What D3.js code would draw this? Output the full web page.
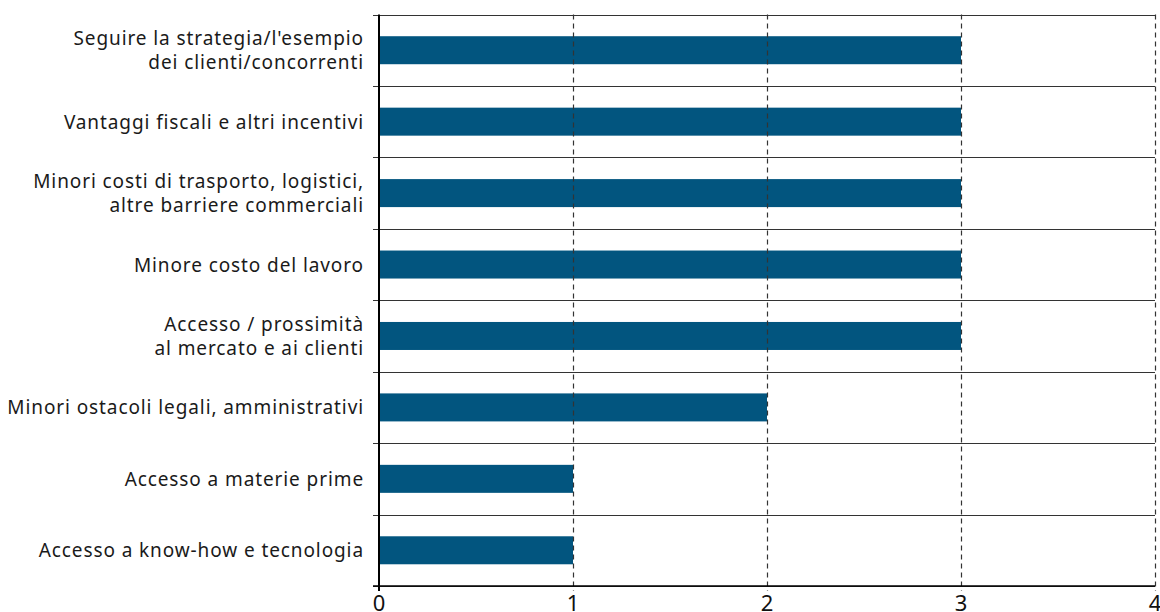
<!DOCTYPE html>
<html><head><meta charset="utf-8">
<script src="https://cdn.jsdelivr.net/npm/d3@7"></script>
<style>body{margin:0;background:#fff}svg{display:block}text{font-variant-ligatures:none}</style>
</head><body>
<svg id="c" width="1160" height="612"></svg>
<script>
const categories = [
  ["Seguire la strategia/l'esempio","dei clienti/concorrenti"],
  ["Vantaggi fiscali e altri incentivi"],
  ["Minori costi di trasporto, logistici,","altre barriere commerciali"],
  ["Minore costo del lavoro"],
  ["Accesso / prossimità","al mercato e ai clienti"],
  ["Minori ostacoli legali, amministrativi"],
  ["Accesso a materie prime"],
  ["Accesso a know-how e tecnologia"]
];
const values = [3,3,3,3,3,2,1,1];
const xTicks = [0,1,2,3,4];

(function(){
const svg = d3.select("#c");
const mLeft = 379, mRight = 1155, mTop = 14.5, mBottom = 586;
const font = "'Noto Sans', sans-serif";
const x = d3.scaleLinear().domain([0,4]).range([mLeft,mRight]);
const band = (mBottom-mTop)/categories.length;

const seps = d3.range(categories.length+1).map(i => mTop + i*band);
svg.selectAll("line.sep").data(seps).join("line")
  .attr("x1", mLeft-6).attr("x2", mRight)
  .attr("y1", d=>Math.round(d)+0.5).attr("y2", d=>Math.round(d)+0.5)
  .attr("stroke","#333").attr("stroke-width",1.2);

svg.selectAll("rect.bar").data(values).join("rect")
  .attr("x", x(0)).attr("y",(d,i)=> mTop + i*band + band/2 - 14)
  .attr("width", d=>x(d)-x(0)).attr("height", 28)
  .attr("fill","#02557f");

svg.selectAll("line.grid").data(xTicks.slice(1)).join("line")
  .attr("x1", d=>Math.round(x(d))+0.5).attr("x2", d=>Math.round(x(d))+0.5)
  .attr("y1", mTop).attr("y2", mBottom+5)
  .attr("stroke","#333").attr("stroke-width",1.2).attr("stroke-dasharray","5,4");

svg.append("line").attr("x1",mLeft).attr("x2",mLeft).attr("y1",mTop).attr("y2",mBottom+5)
  .attr("stroke","#000").attr("stroke-width",2);
svg.append("line").attr("x1",mLeft-6).attr("x2",mRight).attr("y1",mBottom).attr("y2",mBottom)
  .attr("stroke","#000").attr("stroke-width",1.5);

svg.selectAll("text.xt").data(xTicks).join("text")
  .attr("x", d=>x(d)).attr("y", 611)
  .attr("text-anchor","middle").attr("font-family",font).attr("font-size",22).attr("fill","#111")
  .text(d=>d);

const lab = svg.selectAll("text.cat").data(categories).join("text")
  .attr("text-anchor","end").attr("font-family",font).attr("font-size",19)
  .attr("letter-spacing","0.9px").attr("fill","#1a1a1a");
lab.each(function(lines,i){
  const cy = mTop + i*band + band/2;
  const lh = 24;
  const start = cy - (lines.length-1)*lh/2 + 7;
  d3.select(this).selectAll("tspan").data(lines).join("tspan")
    .attr("x", 364).attr("y",(d,j)=>start + j*lh).text(d=>d);
});
})();
</script>
</body></html>
